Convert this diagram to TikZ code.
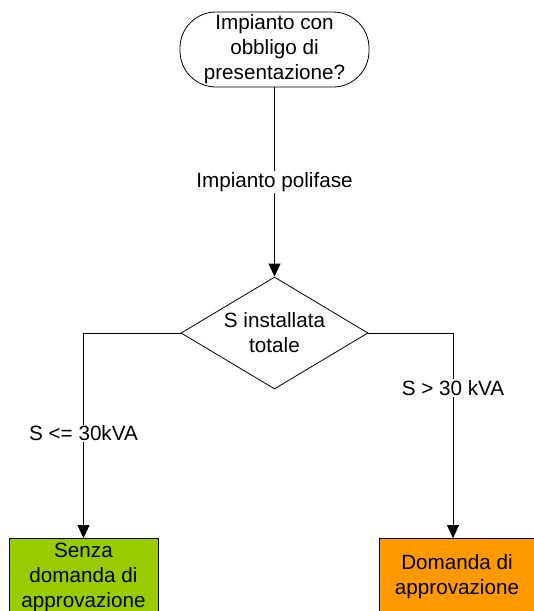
\documentclass[tikz,border=0pt]{standalone}
\usepackage{fontspec}
\setmainfont{Liberation Sans}
\usetikzlibrary{shapes.geometric,arrows.meta}
\definecolor{verde}{HTML}{99CC00}
\definecolor{arancio}{HTML}{FF9900}

\begin{document}
\begin{tikzpicture}[x=0.75pt,y=-0.75pt,
  font=\fontsize{15.5}{18.75}\selectfont,
  line width=0.6pt,
  freccia/.style={-{Triangle[width=9pt,length=9.75pt]}},
  scatola/.style={draw,rectangle,minimum width=111.75pt,minimum height=57.75pt,inner sep=1pt,align=center},
  etichetta/.style={fill=white,inner sep=1pt}]
\useasboundingbox (0,0) rectangle (534,611);
\clip (0,0) rectangle (534,611);

\node[draw,rounded corners=27pt,minimum width=141.75pt,minimum height=56.25pt,inner sep=0pt,align=center] (inizio) at (274.5,49.5) {Impianto con\\obbligo di\\presentazione?};
\node[draw,diamond,aspect=1.67,inner sep=0pt,minimum width=140.25pt,minimum height=84pt,align=center] (potenza) at (274.5,333) {S installata\\totale};
\node[scatola,fill=verde] (senza) at (83.5,577) {Senza\\domanda di\\approvazione};
\node[scatola,fill=arancio,minimum width=117pt] (domanda) at (457,577) {Domanda di\\approvazione};

\coordinate (sinistra) at (83.5,333);
\coordinate (destra) at (453,333);

\draw[freccia] (inizio) -- node[etichetta] {Impianto polifase} (potenza);
\draw[freccia] (potenza.west) -- (sinistra) -- node[etichetta,pos=0.49] {S <= 30kVA} (senza.north);
\draw[freccia] (potenza.east) -- (destra) -- node[etichetta,pos=0.27] {S > 30 kVA} (destra |- domanda.north);
\end{tikzpicture}
\end{document}
